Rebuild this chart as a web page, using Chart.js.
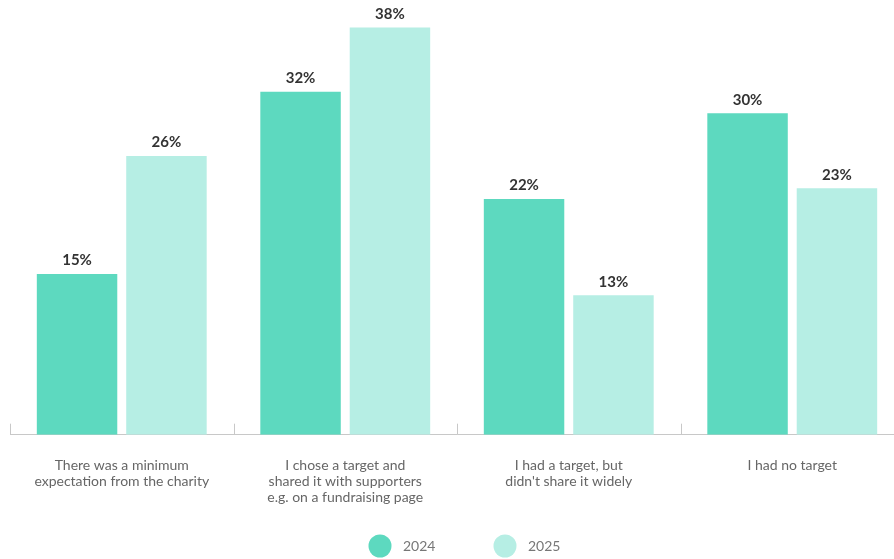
<!DOCTYPE html>
<html>
<head>
<meta charset="utf-8">
<script src="https://cdn.jsdelivr.net/npm/chart.js@4.4.1/dist/chart.umd.min.js"></script>
<style>
  html, body { margin: 0; padding: 0; background: #fff; overflow: hidden; }
  #wrap { position: relative; width: 920px; height: 559px; }
</style>
</head>
<body>
<div id="wrap"><canvas id="chart"></canvas></div>
<script>
const categories = [
  ["There was a minimum", "expectation from the charity"],
  ["I chose a target and", "shared it with supporters", "e.g. on a fundraising page"],
  ["I had a target, but", "didn't share it widely"],
  "I had no target"
];
const years = ["2024", "2025"];
const values2024 = [15, 32, 22, 30];
const values2025 = [26, 38, 13, 23];
const colours = ["#5dd9bf", "#b6eee4"];

const FONT = "Lato, 'Open Sans', sans-serif";

// percentage labels above each bar
const valueLabels = {
  id: "valueLabels",
  afterDatasetsDraw(chart) {
    const ctx = chart.ctx;
    ctx.save();
    ctx.font = "bold 15px " + FONT;
    ctx.fillStyle = "#333";
    ctx.textAlign = "center";
    ctx.textBaseline = "bottom";
    chart.data.datasets.forEach((ds, i) => {
      chart.getDatasetMeta(i).data.forEach((bar, j) => {
        ctx.fillText(ds.data[j] + "%", bar.x, bar.y - 6);
      });
    });
    ctx.restore();
  }
};

// small upward ticks on the baseline between the groups
const groupTicks = {
  id: "groupTicks",
  afterDraw(chart) {
    const x = chart.scales.x;
    const ctx = chart.ctx;
    const n = chart.data.labels.length;
    const step = (x.right - x.left) / n;
    ctx.save();
    ctx.strokeStyle = "#c8c8c8";
    ctx.lineWidth = 1;
    for (let i = 0; i <= n; i++) {
      const px = Math.round(x.left + i * step) + 0.5;
      ctx.beginPath();
      ctx.moveTo(px, x.top - 11);
      ctx.lineTo(px, x.top);
      ctx.stroke();
    }
    ctx.restore();
  }
};

// legend with large round swatches
const roundLegend = {
  id: "roundLegend",
  afterDraw(chart) {
    const ctx = chart.ctx;
    ctx.save();
    ctx.font = "14px " + FONT;
    ctx.textBaseline = "middle";
    chart.data.datasets.forEach((ds, i) => {
      const cx = 380 + i * 125;
      const cy = 546;
      ctx.fillStyle = ds.backgroundColor;
      ctx.beginPath();
      ctx.arc(cx, cy, 11.5, 0, Math.PI * 2);
      ctx.fill();
      ctx.fillStyle = "#777";
      ctx.textAlign = "left";
      ctx.fillText(ds.label, cx + 23, cy);
    });
    ctx.restore();
  }
};

new Chart(document.getElementById("chart"), {
  type: "bar",
  data: {
    labels: categories,
    datasets: [
      { label: years[0], data: values2024, backgroundColor: colours[0] },
      { label: years[1], data: values2025, backgroundColor: colours[1] }
    ]
  },
  options: {
    responsive: true,
    maintainAspectRatio: false,
    animation: false,
    categoryPercentage: 0.8,
    barPercentage: 0.9,
    layout: { padding: { left: 10, right: 16, top: 6, bottom: 38 } },
    plugins: {
      legend: { display: false },
      tooltip: { enabled: false }
    },
    scales: {
      x: {
        grid: { display: false },
        border: { display: true, color: "#c8c8c8", width: 1 },
        ticks: {
          color: "#666",
          padding: 15,
          maxRotation: 0,
          autoSkip: false,
          font: { family: FONT, size: 14, lineHeight: 1.15 }
        }
      },
      y: {
        display: false,
        min: 0,
        max: 40
      }
    }
  },
  plugins: [valueLabels, groupTicks, roundLegend]
});
</script>
</body>
</html>
